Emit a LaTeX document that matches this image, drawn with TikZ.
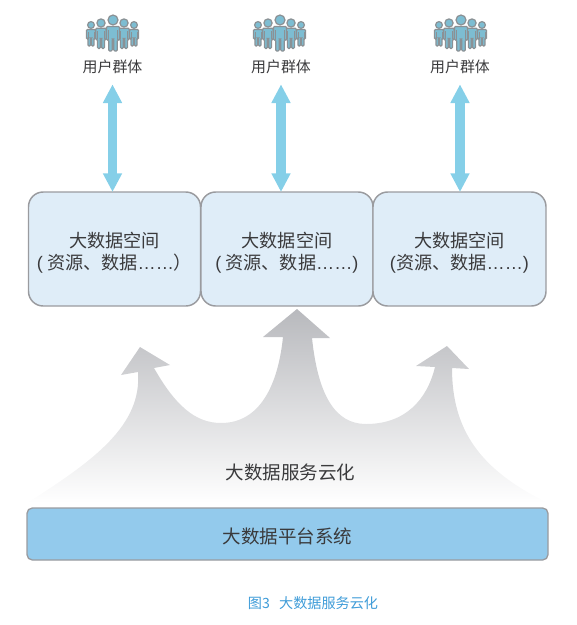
\documentclass[tikz,border=0pt]{standalone}
\usepackage{fontspec}
\setmainfont{Noto Sans CJK SC}
\newfontfamily\latinf{Liberation Sans}
\usetikzlibrary{arrows.meta}
\definecolor{boxfill}{HTML}{DFEDF8}
\definecolor{boxline}{HTML}{9A9B9F}
\definecolor{basefill}{HTML}{93CAEC}
\definecolor{arrowblue}{HTML}{85CFE8}
\definecolor{cloudgray}{HTML}{B8B9BD}
\definecolor{txt}{HTML}{3A3A3C}
\definecolor{captionblue}{HTML}{3F9CD8}
\definecolor{personfill}{HTML}{7DBDD2}
\definecolor{personline}{HTML}{8B9195}
\tikzset{
  spacebox/.style={draw=boxline,fill=boxfill,line width=1.1pt,rounded corners=11pt,
    minimum height=85.5pt,inner sep=0pt,outer sep=0pt,align=center,text=txt,
    font=\fontsize{13.6pt}{16pt}\selectfont},
  basebox/.style={draw=boxline,fill=basefill,line width=1pt,rounded corners=4pt,
    minimum width=390.75pt,minimum height=39pt,inner sep=0pt,outer sep=0pt,text=txt,
    font=\fontsize{13.9pt}{16pt}\selectfont},
  userlabel/.style={inner sep=0pt,outer sep=0pt,minimum height=24pt,text=txt,
    font=\fontsize{11.2pt}{13pt}\selectfont},
  duplex/.style={draw=arrowblue,line width=7pt,
    {Triangle[width=13.5pt,length=14pt]}-{Triangle[width=13.5pt,length=14pt]}},
  cloudlabel/.style={inner sep=0pt,text=txt,font=\fontsize{13.9pt}{16pt}\selectfont},
  captionlabel/.style={inner sep=0pt,text=captionblue,font=\fontsize{10.6pt}{13pt}\selectfont},
  personbody/.style={fill=personfill,draw=personline,line width=.9pt,rounded corners=.8pt},
}
\newcommand{\onefigure}[3]{% x, head y, scale
  \begin{scope}[shift={(#1,#2)},scale=#3]
    \path[personbody] (-6.5,6.5) -- (6.5,6.5) -- (6.5,20) -- (4.3,20) -- (4.3,31) -- (0.8,31) -- (0.8,19)
      -- (-0.8,19) -- (-0.8,31) -- (-4.3,31) -- (-4.3,20) -- (-6.5,20) -- cycle;
    \draw[personline,line width=.6pt] (-4.3,10) -- (-4.3,20) (4.3,10) -- (4.3,20);
    \path[fill=personfill,draw=personline,line width=.9pt] (0,0) circle (5);
  \end{scope}}
\newcommand{\peoplegroup}[1]{% centre x
  \onefigure{#1-22}{25}{.68}
  \onefigure{#1+21}{25}{.68}
  \onefigure{#1-12}{23}{.82}
  \onefigure{#1+11}{23}{.82}
  \onefigure{#1}{20}{1}}
\newcommand{\pushdown}{\rule{0pt}{17pt}}
\begin{document}
\begin{tikzpicture}[x=.75pt,y=-.75pt]
\useasboundingbox (0,0) rectangle (576,625);
% cloud
\path[shade,top color=cloudgray,bottom color=white]
  (27,503) .. controls (95,460) and (142,425) .. (138,372)
  -- (121,375) -- (140,347) -- (170,365) -- (154,368)
  .. controls (175,405) and (195,423) .. (221,423)
  .. controls (260,423) and (278,385) .. (283,337)
  -- (263,337) -- (297,309) -- (330,338) -- (312,338)
  .. controls (318,395) and (335,424) .. (366,424)
  .. controls (405,424) and (427,400) .. (435,367)
  -- (416,366) -- (447,346) -- (469,369) -- (452,368)
  .. controls (452,430) and (480,470) .. (548,503) -- cycle;
% icons
\peoplegroup{113}
\peoplegroup{280}
\peoplegroup{461}
% nodes
\node[userlabel] (u1) at (112.5,67) {用户群体};
\node[userlabel] (u2) at (281,67) {用户群体};
\node[userlabel] (u3) at (460,67) {用户群体};
\node[spacebox,minimum width=129pt] (s1) at (114.5,249) {\pushdown 大数据空间\\{\latinf(} 资源、数据{\latinf……}）};
\node[spacebox,minimum width=129pt] (s2) at (287,249) {\pushdown 大数据空间\\{\latinf(} 资源、数据{\latinf……)}};
\node[spacebox,minimum width=129.75pt] (s3) at (459.5,249) {\pushdown 大数据空间\\{\latinf(}资源、数据{\latinf……)}};
\node[basebox] (base) at (287.5,534) {\rule{0pt}{15pt}大数据平台系统};
\node[cloudlabel] (cloudtext) at (290.5,472) {大数据服务云化};
\node[captionlabel] (cap) at (313,603) {图3\hspace{7pt}大数据服务云化};
% connectors
\draw[duplex] ([yshift=-1pt]u1.south) -- (u1.south |- s1.north);
\draw[duplex] ([yshift=-1pt]u2.south) -- (u2.south |- s2.north);
\draw[duplex] ([yshift=-1pt]u3.south) -- (u3.south |- s3.north);
\end{tikzpicture}
\end{document}
